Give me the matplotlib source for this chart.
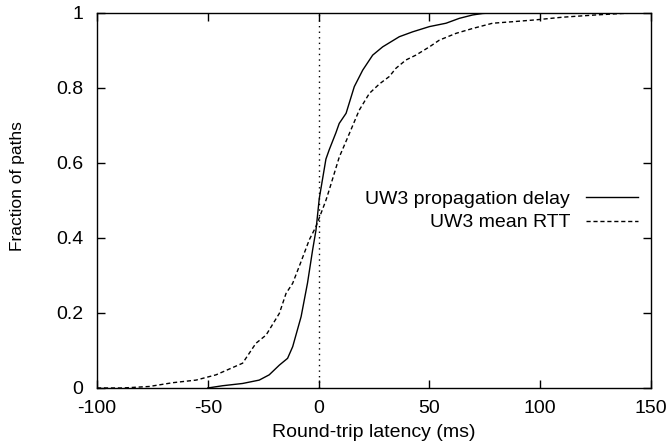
import matplotlib
matplotlib.use("Agg")
import matplotlib.pyplot as plt
from matplotlib.ticker import FuncFormatter

plt.rcParams['font.family'] = ['Liberation Sans', 'DejaVu Sans']
plt.rcParams['axes.unicode_minus'] = False

# CDF of propagation delay (ms) vs fraction of paths
prop_x = [-50, -43.3, -34.3, -26.8, -22.3, -17.7, -14, -11.7, -7.9, -5, -2.7, -1.2,
          0.3, 3.3, 4.8, 7.8, 9.3, 12.4, 16.1, 19.9, 24.4, 28.9, 36.4, 42.4, 50,
          57.5, 63.5, 69.5, 74, 80, 150]
prop_y = [0, 0.006, 0.012, 0.021, 0.035, 0.061, 0.079, 0.11, 0.19, 0.28, 0.368, 0.42,
          0.505, 0.61, 0.635, 0.68, 0.705, 0.732, 0.803, 0.847, 0.887, 0.909, 0.936, 0.949, 0.963,
          0.972, 0.985, 0.994, 0.998, 1.0, 1.0]

# CDF of mean RTT
rtt_x = [-100, -88.4, -76.4, -65.9, -55.3, -46.3, -34.3, -28.3, -23.7, -17.7, -14.7,
         -11.7, -7.9, -4.2, -1.2, 3.3, 4.8, 9.3, 13.8, 18.3, 22.9, 27.4, 31.9, 34.9,
         39.4, 43.9, 50, 54.5, 62, 69.5, 78.5, 87.5, 98, 110, 125, 137, 150]
rtt_y = [0, 0.0, 0.004, 0.014, 0.021, 0.035, 0.066, 0.119, 0.141, 0.199, 0.252,
         0.279, 0.337, 0.395, 0.43, 0.5, 0.528, 0.615, 0.677, 0.74, 0.785, 0.81, 0.83, 0.852,
         0.874, 0.887, 0.909, 0.927, 0.945, 0.958, 0.972, 0.976, 0.981, 0.988, 0.994, 0.998, 1.0]

x_ticks = [-100, -50, 0, 50, 100, 150]
y_ticks = [0, 0.2, 0.4, 0.6, 0.8, 1]

fs = 14

fig = plt.figure(figsize=(6.68, 4.43), dpi=100)
ax = fig.add_axes([0.1452, 0.1242, 0.8294, 0.8471])

ax.axvline(0, color='black', linestyle=(0, (1, 3)), linewidth=1)
ax.plot(prop_x, prop_y, color='black', linewidth=1, label='UW3 propagation delay')
ax.plot(rtt_x, rtt_y, color='black', linewidth=1, linestyle=(0, (3, 2)),
        label='UW3 mean RTT')

ax.set_xlim(-100, 150)
ax.set_ylim(0, 1)
ax.set_xticks(x_ticks)
ax.set_yticks(y_ticks)
ax.yaxis.set_major_formatter(FuncFormatter(lambda v, p: '%g' % v))
ax.tick_params(direction='in', top=True, right=True, length=6, width=1,
               labelsize=fs)
ax.tick_params(axis='x', pad=9)
ax.tick_params(axis='y', pad=10)
for s in ax.spines.values():
    s.set_linewidth(1)

ax.set_xlabel('Round-trip latency (ms)', fontsize=fs, labelpad=5)
ylab = ax.set_ylabel('Fraction of paths', fontsize=12.5)
ylab.set_va('center')
ax.yaxis.set_label_coords(-0.1426, 0.537)

leg = ax.legend(loc='center right', bbox_to_anchor=(0.977, 0.472), frameon=False,
                fontsize=fs, markerfirst=False, handlelength=2.7,
                labelspacing=0.3, handletextpad=0.8, borderpad=0, borderaxespad=0)
for t in leg.get_texts():
    t.set_ha('right')
leg._legend_box.align = 'right'

fig.savefig('out.png', dpi=100)
